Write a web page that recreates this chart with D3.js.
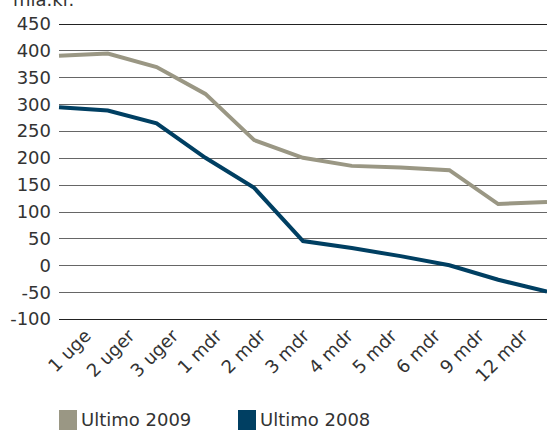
<!DOCTYPE html>
<html>
<head>
<meta charset="utf-8">
<script src="https://cdn.jsdelivr.net/npm/d3@7"></script>
<style>
  body { margin: 0; background: #fff; }
  text { font-family: "DejaVu Sans", sans-serif; fill: #333; }
</style>
</head>
<body>
<svg id="chartsvg" width="547" height="430"></svg>
<script>
var vis = d3.select("#chartsvg");

let periods = ["1 uge", "2 uger", "3 uger", "1 mdr", "2 mdr", "3 mdr", "4 mdr", "5 mdr", "6 mdr", "9 mdr", "12 mdr"];
let ultimo2009 = [390, 394, 369, 319, 233, 200, 185, 182, 177, 114, 118];
let ultimo2008 = [294, 288, 264, 200, 144, 45, 32, 17, 0, -27, -49];
let yTicks = [450, 400, 350, 300, 250, 200, 150, 100, 50, 0, -50, -100];
let seriesNames = ["Ultimo 2009", "Ultimo 2008"];
let seriesColors = ["#9a9784", "#003f62"];

const plotLeft = 59, plotRight = 547;

var x = d3.scalePoint().domain(periods).range([plotLeft, plotRight]);
var xLabel = d3.scalePoint().domain(periods).range([92, 529]);
var y = d3.scaleLinear().domain([-100, 450]).range([319, 23.5]);

// unit label, mostly cut by the top edge (as in the source)
vis.append("text")
    .attr("x", 13).attr("y", 6)
    .attr("font-size", 18)
    .text("mia.kr.");

// gridlines
vis.append("g").selectAll("line").data(yTicks)
    .enter().append("line")
    .attr("x1", plotLeft).attr("x2", plotRight)
    .attr("y1", d => Math.round(y(d)) + 0.5)
    .attr("y2", d => Math.round(y(d)) + 0.5)
    .attr("stroke", (d, i) => i == 0 || d == -100 ? "#222" : "#666")
    .attr("stroke-width", 1);

// y labels
vis.append("g").selectAll("text").data(yTicks)
    .enter().append("text")
    .attr("x", 51)
    .attr("y", d => y(d))
    .attr("dy", "0.36em")
    .attr("text-anchor", "end")
    .attr("font-size", 18)
    .text(d => d);

// x labels
vis.append("g").selectAll("text").data(periods)
    .enter().append("text")
    .attr("transform", d => "translate(" + xLabel(d) + ",337) rotate(-45)")
    .attr("text-anchor", "end")
    .attr("font-size", 18)
    .text(d => d);

var line = d3.line()
    .x((d, i) => x(periods[i]))
    .y(d => y(d));

[ultimo2009, ultimo2008].forEach((s, i) => {
    vis.append("path")
        .datum(s)
        .attr("fill", "none")
        .attr("stroke", seriesColors[i])
        .attr("stroke-width", 4)
        .attr("stroke-linejoin", "miter")
        .attr("d", line);
});

// legend
var legendX = d3.scaleOrdinal().domain(seriesNames).range([59, 238]);
var legend = vis.append("g").selectAll("g").data(seriesNames)
    .enter().append("g")
    .attr("transform", d => "translate(" + legendX(d) + ",410)");
legend.append("rect")
    .attr("width", 18).attr("height", 20)
    .attr("fill", (d, i) => seriesColors[i]);
legend.append("text")
    .attr("x", 22).attr("y", 16)
    .attr("font-size", 18)
    .text(d => d);
</script>
</body>
</html>
